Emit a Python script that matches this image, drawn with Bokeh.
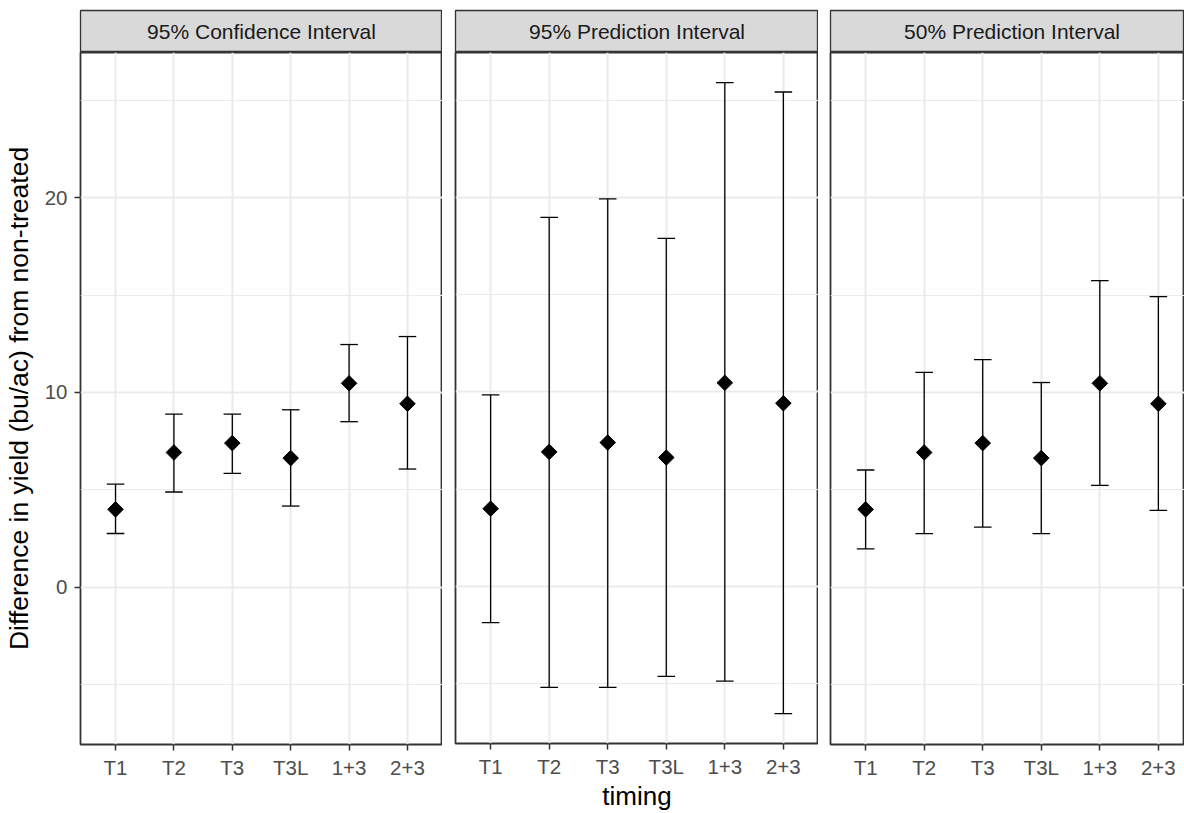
import numpy as np
from bokeh.plotting import figure
from bokeh.layouts import row, column
from bokeh.models import ColumnDataSource, FixedTicker, Range1d, Label
from bokeh.transform import dodge
from bokeh.embed import file_html
from bokeh.resources import INLINE

# ---------------- data ----------------
timings = ["T1", "T2", "T3", "T3L", "1+3", "2+3"]
estimate = [4.00, 6.92, 7.40, 6.63, 10.47, 9.42]

panel_titles = ["95% Confidence Interval", "95% Prediction Interval", "50% Prediction Interval"]

ci95_lower = [2.76, 4.89, 5.85, 4.17, 8.50, 6.07]
ci95_upper = [5.29, 8.89, 8.89, 9.11, 12.46, 12.87]

pi95_lower = [-1.86, -5.19, -5.19, -4.62, -4.86, -6.53]
pi95_upper = [9.85, 18.97, 19.93, 17.90, 25.90, 25.42]

pi50_lower = [1.97, 2.75, 3.09, 2.75, 5.23, 3.95]
pi50_upper = [6.02, 11.03, 11.69, 10.51, 15.74, 14.92]

y_ticks = [0, 10, 20]
y_minor_ticks = [-5, 5, 15, 25]
y_label = "Difference in yield (bu/ac) from non-treated"
x_label = "timing"

# ---------------- style ----------------
FONT = "Liberation Sans"
FULL_FRAME_W = 363
FRAME_H = 692
STRIP_H = 42
STRIP_TOP = 10
BOTTOM = 69
Y_START, Y_END = -8.07, 27.45

xs = list(range(1, len(timings) + 1))


def make_panel(title, lower, upper, border_left, frame_w, show_y, show_xlabel):
    n = len(timings)
    full_span = n + 0.2
    x_end = 0.4 + full_span * frame_w / FULL_FRAME_W
    xr = Range1d(0.4, x_end)

    # strip
    s = figure(width=border_left + frame_w, height=STRIP_H + STRIP_TOP,
               x_range=xr, y_range=Range1d(0, 1),
               min_border_left=border_left, min_border_right=0,
               min_border_top=STRIP_TOP, min_border_bottom=0,
               toolbar_location=None, output_backend="svg", title=None)
    s.axis.visible = False
    s.grid.visible = False
    s.background_fill_color = "#D9D9D9"
    s.border_fill_color = "white"
    s.outline_line_color = "#333333"
    s.outline_line_width = 1.3
    s.add_layout(Label(x=(n + 1) / 2, y=0.5, text=title, text_align="center",
                       text_baseline="middle", text_font_size="21px",
                       text_color="#1A1A1A", text_font=FONT))

    # main panel
    p = figure(width=border_left + frame_w, height=FRAME_H + BOTTOM,
               x_range=xr, y_range=Range1d(Y_START, Y_END),
               min_border_left=border_left, min_border_right=0,
               min_border_top=0, min_border_bottom=BOTTOM,
               toolbar_location=None, output_backend="svg", title=None)
    p.background_fill_color = "white"
    p.border_fill_color = "white"
    p.outline_line_color = "#333333"
    p.outline_line_width = 1.8

    # grids
    p.xgrid.ticker = FixedTicker(ticks=xs)
    p.ygrid.ticker = FixedTicker(ticks=y_ticks, minor_ticks=y_minor_ticks)
    for g in (p.xgrid, p.ygrid):
        g.grid_line_color = "#EBEBEB"
        g.grid_line_width = 2
    p.ygrid.minor_grid_line_color = "#EBEBEB"
    p.ygrid.minor_grid_line_width = 1

    # x axis
    xa = p.xaxis[0]
    xa.ticker = FixedTicker(ticks=xs)
    xa.major_label_overrides = {x: t for x, t in zip(xs, timings)}
    xa.axis_line_color = None
    xa.major_tick_line_color = "#333333"
    xa.major_tick_line_width = 1.5
    xa.major_tick_out = 6
    xa.major_tick_in = 0
    xa.minor_tick_line_color = None
    xa.major_label_text_font = FONT
    xa.major_label_text_font_size = "20.5px"
    xa.major_label_text_color = "#4D4D4D"
    xa.major_label_standoff = 5
    if show_xlabel:
        xa.axis_label = x_label
        xa.axis_label_text_font = FONT
        xa.axis_label_text_font_size = "26px"
        xa.axis_label_text_font_style = "normal"
        xa.axis_label_text_color = "black"
        xa.axis_label_standoff = 0

    ya = p.yaxis[0]
    if show_y:
        ya.ticker = FixedTicker(ticks=y_ticks)
        ya.axis_line_color = None
        ya.major_tick_line_color = "#333333"
        ya.major_tick_line_width = 1.5
        ya.major_tick_out = 6
        ya.major_tick_in = 0
        ya.minor_tick_line_color = None
        ya.major_label_text_font = FONT
        ya.major_label_text_font_size = "20.5px"
        ya.major_label_text_color = "#4D4D4D"
        ya.major_label_standoff = 7
        ya.axis_label = y_label
        ya.axis_label_text_font = FONT
        ya.axis_label_text_font_size = "26.5px"
        ya.axis_label_text_font_style = "normal"
        ya.axis_label_text_color = "black"
        ya.axis_label_standoff = 8
    else:
        ya.visible = False

    src = ColumnDataSource(dict(x=xs, est=estimate, lower=lower, upper=upper))
    p.segment(x0="x", y0="lower", x1="x", y1="upper", source=src,
              line_color="black", line_width=1.3)
    p.segment(x0=dodge("x", -0.15), y0="upper", x1=dodge("x", 0.15), y1="upper",
              source=src, line_color="black", line_width=1.3)
    p.segment(x0=dodge("x", -0.15), y0="lower", x1=dodge("x", 0.15), y1="lower",
              source=src, line_color="black", line_width=1.3)
    p.scatter("x", "est", source=src, marker="square", angle=np.pi / 4, size=11,
              fill_color="black", line_color="black")
    return column(s, p, spacing=0)


c1 = make_panel(panel_titles[0], ci95_lower, ci95_upper, 79, 363, True, False)
c2 = make_panel(panel_titles[1], pi95_lower, pi95_upper, 13, 363, False, True)
c3 = make_panel(panel_titles[2], pi50_lower, pi50_upper, 12, 354, False, False)

layout = row(c1, c2, c3, spacing=0)

open("out.html", "w").write(file_html(layout, INLINE))
